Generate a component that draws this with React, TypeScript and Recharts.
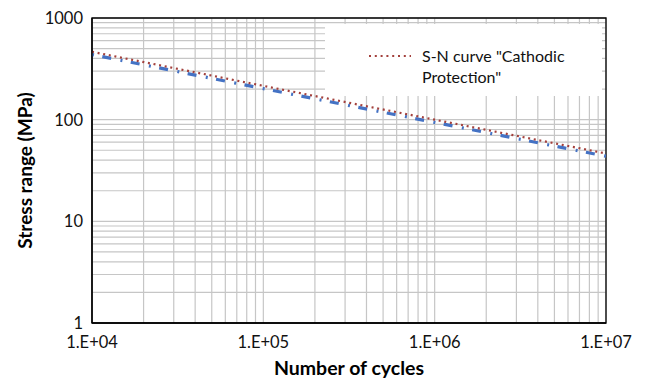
import React from "react";
import {
  LineChart,
  Line,
  XAxis,
  YAxis,
  CartesianGrid,
  ReferenceArea,
  Legend,
  Label,
} from "recharts";

// Decades used for axis labels
const xDecades = [1e4, 1e5, 1e6, 1e7];
const yDecades = [1, 10, 100, 1000];
const minorSteps = [1, 2, 3, 4, 5, 6, 7, 8, 9];

// Series values
const cycles = [1e4, 1e5, 1e6, 1e7];
const snCurve = [465, 215, 100, 46.5]; // S-N curve "Cathodic Protection" (dotted red)
const fitCurve = [437, 202, 94, 43.7]; // dashed blue

const legendLines = ['S-N curve "Cathodic', 'Protection"'];

const buildTicks = (decades: number[]) => {
  const out: number[] = [];
  decades.slice(0, -1).forEach((d) => minorSteps.forEach((m) => out.push(d * m)));
  out.push(decades[decades.length - 1]);
  return out;
};
const xTicks = buildTicks(xDecades);
const yTicks = buildTicks(yDecades);

const data = cycles.map((n, i) => ({ n, sn: snCurve[i], fit: fitCurve[i] }));

const FONT = "Lato, 'Liberation Sans', sans-serif";
const RED = "#a3403c";
const BLUE = "#4472c4";

const isDecade = (v: number) => Math.abs(Math.log10(v) - Math.round(Math.log10(v))) < 1e-9;
const xFmt = (v: number) => {
  if (!isDecade(v)) return "";
  const e = Math.round(Math.log10(v));
  return `1.E+${e < 10 ? "0" + e : e}`;
};
const yFmt = (v: number) => (isDecade(v) ? String(v) : "");

const XTitle = (props: any) => {
  const vb = props.viewBox || {};
  return (
    <text
      x={vb.x + vb.width / 2}
      y={vb.y + 52}
      textAnchor="middle"
      fontFamily={FONT}
      fontWeight="bold"
      fontSize={19.5}
      fill="#000"
    >
      Number of cycles
    </text>
  );
};

const YTitle = (props: any) => {
  const vb = props.viewBox || {};
  const cx = vb.x + 25;
  const cy = vb.y + vb.height / 2;
  return (
    <text
      x={cx}
      y={cy}
      dy="0.35em"
      transform={`rotate(-90, ${cx}, ${cy})`}
      textAnchor="middle"
      fontFamily={FONT}
      fontWeight="bold"
      fontSize={19}
      fill="#000"
    >
      Stress range (MPa)
    </text>
  );
};

const LegendBox = () => (
  <svg width={277} height={72} style={{ display: "block" }}>
    <line x1={44} x2={86} y1={32} y2={32} stroke={RED} strokeWidth={2.2} strokeDasharray="2 3.8" />
    {legendLines.map((t, i) => (
      <text key={i} x={97} y={38} dy={i * 21} fontFamily={FONT} fontSize={16} fill="#111">
        {t}
      </text>
    ))}
  </svg>
);

export default function App() {
  return (
    <div style={{ position: "absolute", left: 0, top: 0, background: "#fff" }}>
      <LineChart
        width={647}
        height={379}
        data={data}
        margin={{ top: 18, right: 41, bottom: 0, left: 0 }}
        style={{ fontFamily: FONT }}
      >
        <CartesianGrid stroke="#c6c6c6" strokeWidth={1.2} />
        <XAxis
          dataKey="n"
          type="number"
          scale="log"
          domain={[1e4, 1e7]}
          allowDataOverflow
          ticks={xTicks}
          interval={0}
          tickFormatter={xFmt}
          tickLine={false}
          tickSize={0}
          tickMargin={13}
          height={56}
          axisLine={{ stroke: "#000", strokeWidth: 1.3 }}
          tick={{ fill: "#111", fontSize: 16.5 }}
        >
          <Label content={XTitle} />
        </XAxis>
        <YAxis
          type="number"
          scale="log"
          domain={[1, 1000]}
          allowDataOverflow
          ticks={yTicks}
          interval={0}
          tickFormatter={yFmt}
          tickLine={false}
          tickSize={0}
          tickMargin={9}
          width={92}
          axisLine={{ stroke: "#000", strokeWidth: 1.3 }}
          tick={{ fill: "#111", fontSize: 16.5 }}
        >
          <Label content={YTitle} />
        </YAxis>
        <ReferenceArea
          x1={1e4}
          x2={1e7}
          y1={1}
          y2={1000}
          fill="none"
          stroke="#000"
          strokeWidth={1.3}
          ifOverflow="visible"
        />
        <Line
          dataKey="fit"
          type="linear"
          stroke={BLUE}
          strokeWidth={3.2}
          strokeDasharray="2 8.5 9 9.5"
          dot={false}
          activeDot={false}
          legendType="none"
          isAnimationActive={false}
        />
        <Line
          dataKey="sn"
          type="linear"
          stroke={RED}
          strokeWidth={2.2}
          strokeDasharray="2 3.7"
          dot={false}
          activeDot={false}
          isAnimationActive={false}
        />
        <Legend
          layout="vertical"
          align="center"
          verticalAlign="middle"
          content={LegendBox}
          wrapperStyle={{ left: 325, top: 24, width: 277, height: 72, background: "#fff" }}
        />
      </LineChart>
    </div>
  );
}
